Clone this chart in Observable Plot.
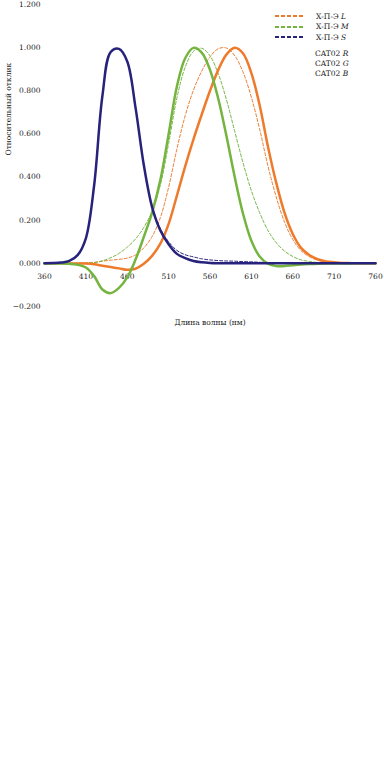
<!DOCTYPE html>
<html>
<head>
<meta charset="utf-8">
<script src="https://cdn.jsdelivr.net/npm/d3@7"></script>
<script src="https://cdn.jsdelivr.net/npm/@observablehq/plot@0.6"></script>
<style>
  html, body { margin: 0; padding: 0; background: #fff; }
  #wrap { position: relative; width: 384px; height: 765px; background: #fff; }
  #legend { position: absolute; left: 274px; top: 11px; font-family: "DejaVu Serif", serif; font-size: 7.5px; color: #222; }
  .row { display: flex; align-items: center; height: 10.5px; }
  .row svg { margin-right: 10px; }
  .row.cat { padding-left: 41px; height: 10px; }
  .row i { font-style: italic; }
</style>
</head>
<body>
<div id="wrap"><div id="legend"></div></div>
<script>
const wavelengths = [360,370,380,390,400,410,420,430,440,450,460,470,480,490,500,510,520,530,540,550,560,570,580,590,600,610,620,630,640,650,660,670,680,690,700,710,720,730,740,750,760];

const hpeL = [0,0,0.0001,0.0002,0.0005,0.0015,0.0045,0.010,0.0147,0.0185,0.0244,0.039,0.072,0.124,0.212,0.353,0.530,0.684,0.803,0.891,0.957,0.995,0.998,0.962,0.886,0.770,0.622,0.452,0.308,0.192,0.111,0.059,0.031,0.015,0.008,0.004,0.002,0.001,0.0005,0.0002,0.0001];
const hpeM = [0,0,0,0.0001,0.0003,0.001,0.0035,0.0118,0.0261,0.0462,0.0755,0.1132,0.1666,0.2407,0.364,0.555,0.767,0.909,0.983,0.997,0.962,0.879,0.757,0.610,0.465,0.337,0.235,0.153,0.096,0.057,0.032,0.016,0.009,0.004,0.002,0.001,0.0005,0.0002,0.0001,0,0];
const hpeS = [0.0003,0.0011,0.0036,0.0113,0.0381,0.1164,0.362,0.777,0.980,0.994,0.937,0.723,0.457,0.262,0.160,0.100,0.060,0.040,0.030,0.021,0.016,0.013,0.011,0.010,0.008,0.007,0.005,0.004,0.003,0.002,0.001,0.0006,0.0003,0.0001,0,0,0,0,0,0,0];
const cat02R = [0,0,0,-0.0001,-0.0004,-0.0012,-0.0044,-0.0111,-0.0173,-0.0233,-0.0299,-0.025,-0.002,0.0346,0.0911,0.183,0.314,0.450,0.575,0.690,0.800,0.897,0.969,0.999,0.973,0.882,0.733,0.542,0.374,0.235,0.136,0.072,0.039,0.019,0.009,0.005,0.002,0.001,0.0006,0.0003,0.0001];
const cat02G = [-0.0001,-0.0002,-0.0006,-0.002,-0.0063,-0.0193,-0.0592,-0.1212,-0.138,-0.1139,-0.0654,0.0175,0.1226,0.2355,0.386,0.599,0.820,0.951,0.999,0.977,0.897,0.763,0.588,0.398,0.229,0.105,0.032,-0.0015,-0.0128,-0.0126,-0.0088,-0.0051,-0.0029,-0.0014,-0.0007,-0.0004,-0.0002,-0.0001,0,0,0];
const cat02B = [0.0003,0.0011,0.0036,0.0112,0.0381,0.1163,0.362,0.777,0.980,0.994,0.936,0.722,0.456,0.261,0.153,0.089,0.044,0.024,0.011,0.005,0.002,0.001,0.001,0.0006,0.0004,0.0002,0.0001,0,0,0,0,0,0,0,0,0,0,0,0,0,0];

const xTicks = [360,410,460,510,560,610,660,710,760];
const yTicks = [-0.2,0,0.2,0.4,0.6,0.8,1.0,1.2];

const orange = "#EE7A2C";
const green = "#74B43F";
const navy = "#27237C";

const hpeSeries = [
  {name: "Х-П-Э", letter: "L", values: hpeL, color: orange},
  {name: "Х-П-Э", letter: "M", values: hpeM, color: green},
  {name: "Х-П-Э", letter: "S", values: hpeS, color: navy}
];
const catSeries = [
  {name: "CAT02", letter: "R", values: cat02R, color: orange},
  {name: "CAT02", letter: "G", values: cat02G, color: green},
  {name: "CAT02", letter: "B", values: cat02B, color: navy}
];

const marks = [
  Plot.axisY({ticks: yTicks, tickSize: 0, tickPadding: 4, tickFormat: d3.format(".3f"), label: null, fill: "#222"}),
  Plot.text(xTicks, {x: d => d, y: 0, dy: 13, text: d => String(d), fill: "#222"}),
  Plot.text(["Относительный отклик"], {frameAnchor: "left", dx: -36, rotate: -90, fill: "#222"}),
  Plot.text(["Длина волны (нм)"], {frameAnchor: "bottom", dy: 16, lineAnchor: "middle", fill: "#222"})
];
for (const s of hpeSeries) {
  marks.push(Plot.line(wavelengths, {x: wavelengths, y: s.values, stroke: s.color, strokeWidth: 1, strokeDasharray: "3,2", curve: "catmull-rom"}));
}
for (const s of catSeries) {
  marks.push(Plot.line(wavelengths, {x: wavelengths, y: s.values, stroke: s.color, strokeWidth: 2.5, strokeLinejoin: "round", strokeLinecap: "round", curve: "catmull-rom"}));
}

const chart = Plot.plot({
  width: 384,
  height: 340,
  marginTop: 4,
  marginBottom: 34,
  marginLeft: 44,
  marginRight: 9,
  style: {fontFamily: "DejaVu Serif, serif", fontSize: "7.5px", background: "white", overflow: "visible"},
  x: {domain: [360, 760], axis: null},
  y: {domain: [-0.2, 1.2], axis: null},
  marks
});
const wrap = document.getElementById("wrap");
wrap.insertBefore(chart, wrap.firstChild);

const legend = document.getElementById("legend");
for (const s of hpeSeries) {
  const row = document.createElement("div");
  row.className = "row";
  row.innerHTML = `<svg width="32" height="4"><line x1="1" y1="2" x2="31" y2="2" stroke="${s.color}" stroke-width="2" stroke-dasharray="4,2"/></svg><span>${s.name} <i>${s.letter}</i></span>`;
  legend.appendChild(row);
}
const spacer = document.createElement("div");
spacer.style.height = "6px";
legend.appendChild(spacer);
for (const s of catSeries) {
  const row = document.createElement("div");
  row.className = "row cat";
  row.innerHTML = `<span>${s.name} <i>${s.letter}</i></span>`;
  legend.appendChild(row);
}
</script>
</body>
</html>
